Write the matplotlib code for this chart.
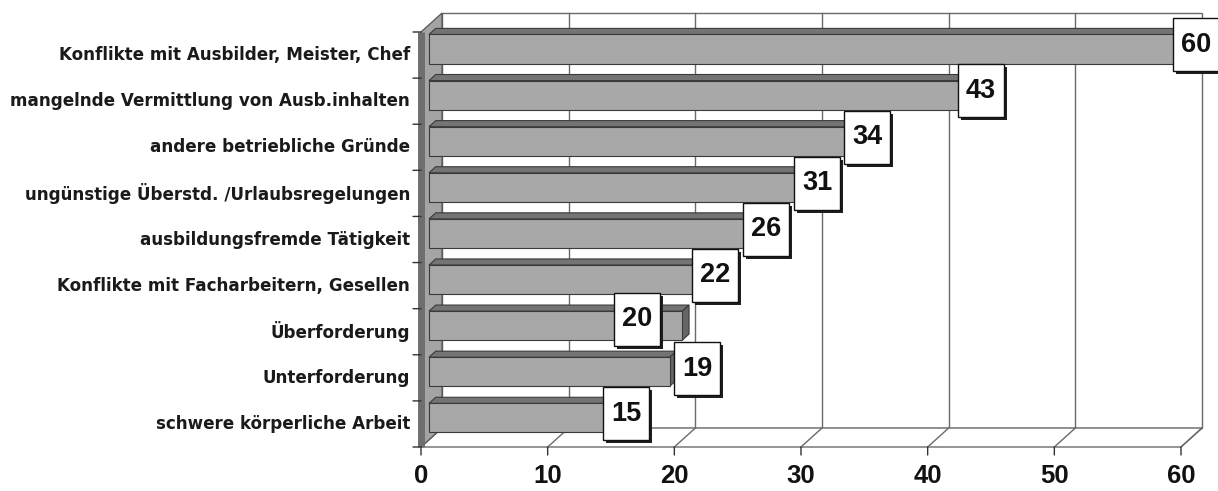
import matplotlib
matplotlib.use("Agg")
import matplotlib.pyplot as plt
from matplotlib.patches import Polygon, Rectangle
from matplotlib.transforms import IdentityTransform

# Gründe für Ausbildungsabbruch (Nennungen)
categories = [
    "Konflikte mit Ausbilder, Meister, Chef",
    "mangelnde Vermittlung von Ausb.inhalten",
    "andere betriebliche Gründe",
    "ungünstige Überstd. /Urlaubsregelungen",
    "ausbildungsfremde Tätigkeit",
    "Konflikte mit Facharbeitern, Gesellen",
    "Überforderung",
    "Unterforderung",
    "schwere körperliche Arbeit",
]
values = [60, 43, 34, 31, 26, 22, 20, 19, 15]
x_ticks = [0, 10, 20, 30, 40, 50, 60]

plt.rcParams["font.family"] = ["Liberation Sans", "DejaVu Sans"]
plt.rcParams["font.weight"] = "bold"

W, H = 1218, 491
fig = plt.figure(figsize=(W / 100, H / 100), dpi=100)
fig.patch.set_facecolor("white")

n = len(categories)
ax = fig.add_axes([421 / W, 44 / H, 760 / W, 415 / H])
ax.set_xlim(0, x_ticks[-1])
ax.set_ylim(0, n)
ax.axis("off")

# depth vector of the 3-D box (in data units)
DX, DY = 1.66, 0.412
T0, T1 = 0.38, 0.70          # bar depth range
GAP_LO, GAP_HI = 0.16, 0.21  # gaps inside each category band


def P(x, y, t):
    return (x + t * DX, y + t * DY)


def poly(pts, fc, ec, lw=0.8, z=1):
    ax.add_patch(Polygon(pts, closed=True, facecolor=fc, edgecolor=ec,
                         linewidth=lw, zorder=z, clip_on=False))


xmax = x_ticks[-1]
grid_c = "#6a6a6a"

# back wall
poly([P(0, 0, 1), P(xmax, 0, 1), P(xmax, n, 1), P(0, n, 1)], "white", grid_c, 1.0, 1)
for v in x_ticks[1:-1]:
    (xa, ya), (xb, yb) = P(v, 0, 1), P(v, n, 1)
    ax.plot([xa, xb], [ya, yb], color=grid_c, lw=1.0, zorder=1.1, clip_on=False)

# floor
poly([P(0, 0, 0), P(xmax, 0, 0), P(xmax, 0, 1), P(0, 0, 1)], "white", grid_c, 1.0, 1.2)
for v in x_ticks[1:]:
    (xa, ya), (xb, yb) = P(v, 0, 0), P(v, 0, 1)
    ax.plot([xa, xb], [ya, yb], color=grid_c, lw=1.0, zorder=1.3, clip_on=False)

# left wall
poly([P(0, 0, 0), P(0, n, 0), P(0, n, 1), P(0, 0, 1)], "#a4a4a4", "#555555", 0.9, 1.4)
ax.plot([0, 0], [0, n], color="#6e6e6e", lw=5, zorder=1.45, clip_on=False,
        solid_capstyle="butt")

# axis ticks
for k in range(n + 1):
    ax.annotate("", xy=(0, k), xytext=(-8, 0), textcoords="offset pixels",
                arrowprops=dict(arrowstyle="-", color="#333333", lw=1.0,
                                shrinkA=0, shrinkB=0), zorder=1.5)
for v in x_ticks:
    ax.annotate("", xy=(v, 0), xytext=(0, -8), textcoords="offset pixels",
                arrowprops=dict(arrowstyle="-", color="#333333", lw=1.0,
                                shrinkA=0, shrinkB=0), zorder=1.5)
    ax.annotate(str(v), xy=(v, 0), xytext=(0, -29), textcoords="offset pixels",
                ha="center", va="center", fontsize=18.5, fontweight="bold",
                color="#111111")

# category labels
for i, cat in enumerate(categories):
    yb = n - 1 - i
    ax.annotate(cat, xy=(0, yb + 0.5), xytext=(-11, 0), textcoords="offset pixels",
                ha="right", va="center", fontsize=12.1, fontweight="bold",
                family=["DejaVu Sans"], color="#1a1a1a")

# bars
front_c, top_c, end_c, edge_c = "#a8a8a8", "#747474", "#666666", "#3a3a3a"
for i, v in enumerate(values):
    yb = n - 1 - i
    y0, y1 = yb + GAP_LO, yb + 1 - GAP_HI
    poly([P(0, y1, T0), P(v, y1, T0), P(v, y1, T1), P(0, y1, T1)], top_c, edge_c, 0.8, 2)
    poly([P(v, y0, T0), P(v, y0, T1), P(v, y1, T1), P(v, y1, T0)], end_c, edge_c, 0.8, 2)
    poly([P(0, y0, T0), P(v, y0, T0), P(v, y1, T0), P(0, y1, T0)], front_c, edge_c, 0.8, 2.1)

# value boxes
label_shift = [(0, 0), (0, 0), (0, 0), (-12, 0), (0, 0), (0, 0), (-53, 2), (20, -1), (0, 0)]
BW, BH, SH = 46, 53, 3
for i, v in enumerate(values):
    yb = n - 1 - i
    cx, cy = ax.transData.transform(P(v, yb + 0.5, (T0 + T1) / 2))
    cx += 4 + label_shift[i][0]
    cy += label_shift[i][1]
    z = 3 + i * 0.1
    fig.patches.append(Rectangle((cx - BW / 2 + SH, cy - BH / 2 - SH), BW, BH,
                                 transform=IdentityTransform(), facecolor="#1e1e1e",
                                 edgecolor="none", zorder=z))
    fig.patches.append(Rectangle((cx - BW / 2, cy - BH / 2), BW, BH,
                                 transform=IdentityTransform(), facecolor="white",
                                 edgecolor="#111111", linewidth=1.0, zorder=z + 0.01))
    fig.text(cx / W, cy / H, str(v), ha="center", va="center", fontsize=19.5,
             fontweight="bold", color="#111111", zorder=z + 0.02)

fig.savefig("out.png", dpi=100, facecolor="white")
